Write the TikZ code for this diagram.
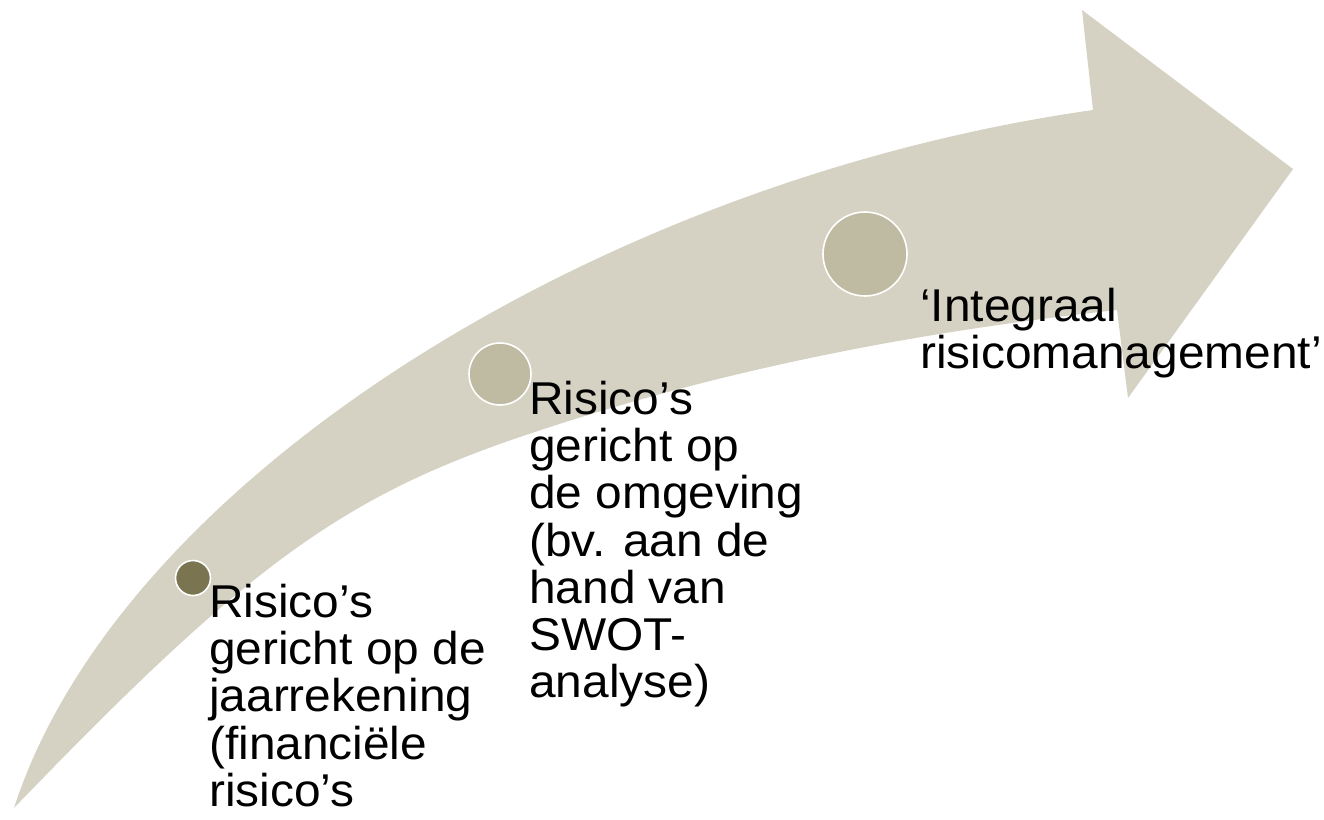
\documentclass[tikz,border=0pt]{standalone}
\usepackage{fontspec}
\setmainfont{Liberation Sans}
\newfontfamily\lblfont[FakeStretch=1.04]{Liberation Sans}
\definecolor{arrowfill}{HTML}{D5D2C3}
\definecolor{dotmid}{HTML}{BFBBA3}
\definecolor{dotdark}{HTML}{7A7450}
\begin{document}
\begin{tikzpicture}[x=1pt,y=-1pt,
  dot/.style={circle, draw=white, line width=1.6pt, inner sep=0pt},
  lbl/.style={anchor=base west, inner sep=0pt, font=\lblfont\fontsize{46}{46.8}\selectfont}]
\useasboundingbox (0,0) rectangle (1324,819);
% curved arrow
\fill[arrowfill] (14,808)
  .. controls (120,480) and (600,180) .. (1093,110)
  -- (1082,10) -- (1293,169) -- (1128,398) -- (1117,310)
  .. controls (917,332) and (720,369) .. (520,437)
  .. controls (340,498) and (244,569) .. (14,808)
  -- cycle;
% milestones
\node[dot, fill=dotdark, minimum size=35pt] (c1) at (193,578) {};
\node[dot, fill=dotmid, minimum size=62pt] (c2) at (500,374) {};
\node[dot, fill=dotmid, minimum size=84pt] (c3) at (865,254) {};
% labels
\node[lbl] (t1) at (209,617) {\begin{tabular}[t]{@{}l@{}}Risico’s\\gericht op de\\jaarrekening\\(financiële\\risico’s\end{tabular}};
\node[lbl] (t2) at (529,414) {\begin{tabular}[t]{@{}l@{}}Risico’s\\gericht op\\de omgeving\\(bv. aan de\\hand van\\SWOT-\\analyse)\end{tabular}};
\node[lbl] (t3) at (920,321) {\begin{tabular}[t]{@{}l@{}}‘Integraal\\risicomanagement’\end{tabular}};
\end{tikzpicture}
\end{document}
